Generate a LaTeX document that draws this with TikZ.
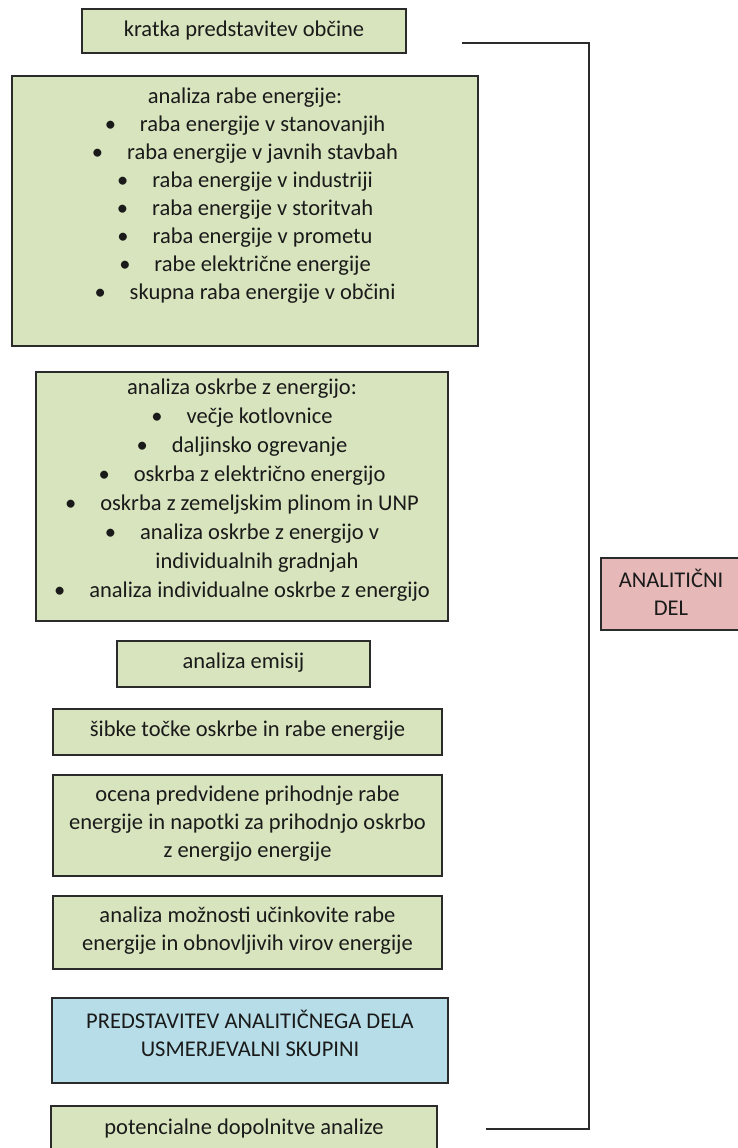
\documentclass[tikz,border=0pt]{standalone}
\usepackage{fontspec}
\setmainfont{Carlito}
\definecolor{boxgreen}{HTML}{D7E4BD}
\definecolor{boxblue}{HTML}{B7DEE8}
\definecolor{boxred}{HTML}{E6B9B8}
\definecolor{edge}{HTML}{2B2B2B}
\definecolor{ink}{HTML}{1A1A1A}
\newcommand{\bl}{\textbullet\hspace{24pt}}
\tikzset{
  box/.style={draw=edge, line width=1.8pt, inner sep=0pt, text=ink,
    font=\fontsize{22.5}{28}\selectfont, align=center},
  greenbox/.style={box, fill=boxgreen},
  bluebox/.style={box, fill=boxblue},
  redbox/.style={box, fill=boxred},
  txt/.style={inner sep=0pt, text=ink, font=\fontsize{22.5}{28}\selectfont, align=center},
  bracket/.style={draw=edge, line width=1.5pt}
}
\begin{document}
\begin{tikzpicture}[x=1pt,y=-1pt]
\useasboundingbox (0,0) rectangle (737,1148);
% boxes
\node[greenbox, minimum width=324pt, minimum height=44pt] (b1) at (244,31) {};
\node[txt] (t1) at (b1.center) {kratka predstavitev občine};
\node[greenbox, minimum width=466pt, minimum height=270pt] (b2) at (245,211) {};
\node[txt] (t2) at (245,196) {analiza rabe energije:\\
\bl raba energije v stanovanjih\\
\bl raba energije v javnih stavbah\\
\bl raba energije v industriji\\
\bl raba energije v storitvah\\
\bl raba energije v prometu\\
\bl rabe električne energije\\
\bl skupna raba energije v občini};
\node[greenbox, minimum width=412pt, minimum height=249pt] (b3) at (242,496.5) {};
\node[txt, font=\fontsize{22.5}{28.9}\selectfont] (t3) at (242,490) {analiza oskrbe z energijo:\\
\bl večje kotlovnice\\
\bl daljinsko ogrevanje\\
\bl oskrba z električno energijo\\
\bl oskrba z zemeljskim plinom in UNP\\
\bl analiza oskrbe z energijo v\\
\hspace*{30pt}individualnih gradnjah\\
\bl analiza individualne oskrbe z energijo};
\node[greenbox, minimum width=253pt, minimum height=46pt] (b4) at (243.5,664) {};
\node[txt] (t4) at (243.5,663) {analiza emisij};
\node[greenbox, minimum width=389pt, minimum height=46pt] (b5) at (247.5,732) {};
\node[txt] (t5) at (247.5,731) {šibke točke oskrbe in rabe energije};
\node[greenbox, minimum width=389pt, minimum height=101pt] (b6) at (247.5,825.5) {};
\node[txt] (t6) at (247.5,824) {ocena predvidene prihodnje rabe\\energije in napotki za prihodnjo oskrbo\\z energijo energije};
\node[greenbox, minimum width=389pt, minimum height=73pt] (b7) at (247.5,932.5) {};
\node[txt] (t7) at (247.5,931) {analiza možnosti učinkovite rabe\\energije in obnovljivih virov energije};
\node[bluebox, minimum width=396pt, minimum height=85pt] (b8) at (250,1040.5) {};
\node[txt] (t8) at (250,1033) {PREDSTAVITEV ANALITIČNEGA DELA\\USMERJEVALNI SKUPINI};
\node[greenbox, minimum width=386pt, minimum height=46pt] (b9) at (244,1129) {};
\node[txt] (t9) at (244,1128) {potencialne dopolnitve analize};
\node[redbox, minimum width=140pt, minimum height=72pt] (r) at (671,594) {};
\node[txt] (tr) at (671,592) {ANALITIČNI\\DEL};
% bracket
\coordinate (bt) at (462,43);
\coordinate (bc1) at (589,43);
\coordinate (bc2) at (589,1129);
\coordinate (bb) at (486,1129);
\draw[bracket] (bt) -- (bc1) -- (bc2) -- (bb);
\end{tikzpicture}
\end{document}
